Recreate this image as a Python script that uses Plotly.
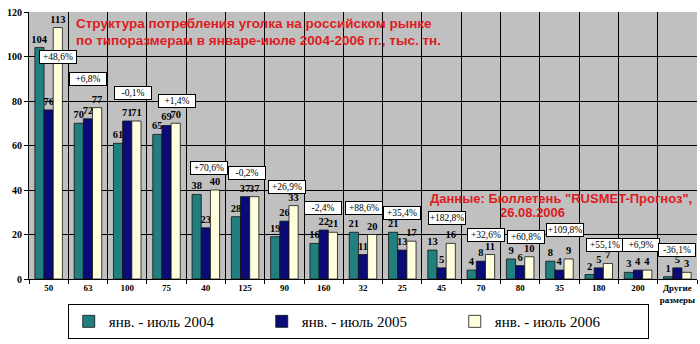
import plotly.graph_objects as go

# Angle sizes (category axis)
sizes = ["50", "63", "100", "75", "40", "125", "90", "160", "32", "25",
         "45", "70", "80", "35", "180", "200", "Другие<br>размеры"]

# Consumption, thousand tonnes, January-July
y2004 = [104, 70, 61, 65, 38, 28, 19, 16, 21, 21, 13, 4, 9, 8, 2, 3, 1]
y2005 = [76, 72, 71, 69, 23, 37, 26, 22, 11, 13, 5, 8, 6, 4, 5, 4, 5]
y2006 = [113, 77, 71, 70, 40, 37, 33, 21, 20, 17, 16, 11, 10, 9, 7, 4, 3]

# Year-on-year change labels
change = ["+48,6%", "+6,8%", "-0,1%", "+1,4%", "+70,6%", "-0,2%", "+26,9%",
          "-2,4%", "+88,6%", "+35,4%", "+182,8%", "+32,6%", "+60,8%",
          "+109,8%", "+55,1%", "+6,9%", "-36,1%"]

series_names = ["янв. - июль 2004", "янв. - июль 2005", "янв. - июль 2006"]

# Placement of the change boxes (y in axis units, x shift in px)
change_box_y = [100, 90, 83.6, 80, 50, 47.6, 41.3, 32, 32, 29.7, 27.6,
                19.8, 19.1, 22, 15.3, 15.3, 13]
change_box_dx = [9, 0, 6, 10, 3, 2, 3, -1, 1, 0, 5, 5, 6, 6, 6, 3, 0]

colors = ["#21807F", "#0B0B78", "#FFFFDD"]
serif = "Liberation Serif"
red = "#DD1C22"

fig = go.Figure()
for name, vals, col in zip(series_names, [y2004, y2005, y2006], colors):
    fig.add_trace(go.Bar(
        x=sizes, y=vals, name=name,
        marker=dict(color=col, line=dict(color="#111111", width=0.8)),
        texttemplate="%{y}", textposition="outside",
        textfont=dict(family=serif, size=10.5, color="black", weight="bold"),
        constraintext="none", cliponaxis=False,
    ))

# change boxes are placed by category index (numeric-looking names would
# otherwise be read as positions)
annotations = []
for idx, (txt, yy, dx) in enumerate(zip(change, change_box_y, change_box_dx)):
    annotations.append(dict(
        x=idx, y=yy, xref="x", yref="y", text=txt, showarrow=False,
        xshift=dx, font=dict(family=serif, size=9.5, color="black"),
        bgcolor="white", bordercolor="black", borderwidth=1, borderpad=1,
        width=34,
    ))

title_font = dict(family="Liberation Sans", size=13.5, color=red, weight="bold")
source_font = dict(family="Liberation Sans", size=13, color=red, weight="bold")
annotations += [
    dict(x=0.067, y=0.957, xref="paper", yref="paper", xanchor="left",
         yanchor="middle", showarrow=False, font=title_font,
         text="Структура потребления уголка на российском рынке"),
    dict(x=0.067, y=0.894, xref="paper", yref="paper", xanchor="left",
         yanchor="middle", showarrow=False, font=title_font,
         text="по типоразмерам в январе-июле 2004-2006 гг., тыс. тн."),
    dict(x=0.797, y=0.303, xref="paper", yref="paper", xanchor="center",
         yanchor="middle", showarrow=False, font=source_font,
         text="Данные: Бюллетень \"RUSMET-Прогноз\","),
    dict(x=0.753, y=0.249, xref="paper", yref="paper", xanchor="center",
         yanchor="middle", showarrow=False, font=source_font,
         text="26.08.2006"),
]

fig.update_layout(
    width=700, height=344,
    margin=dict(l=29, r=3, t=12, b=65),
    paper_bgcolor="white", plot_bgcolor="#C0C0C0",
    barmode="group", bargap=0.3, bargroupgap=0,
    annotations=annotations,
    legend=dict(
        orientation="h", x=0.058, y=-0.094, xanchor="left", yanchor="top",
        font=dict(family=serif, size=15, color="black"),
        bgcolor="white", bordercolor="black", borderwidth=1,
        entrywidth=148, traceorder="normal",
    ),
    xaxis=dict(
        type="category", range=[-0.5, len(sizes) - 0.5],
        tickson="boundaries", showgrid=True, tickangle=0,
        gridcolor="black", gridwidth=1, ticks="outside", ticklen=4,
        tickcolor="black", showline=True, linecolor="black",
        tickfont=dict(family=serif, size=9, color="black", weight="bold"),
    ),
    yaxis=dict(
        range=[0, 120], dtick=20, showgrid=True, gridcolor="black",
        gridwidth=1, ticks="outside", ticklen=4, tickcolor="black",
        showline=True, linecolor="black", zeroline=False,
        tickfont=dict(family=serif, size=10, color="black", weight="bold"),
    ),
)

fig.write_html("out.html")
